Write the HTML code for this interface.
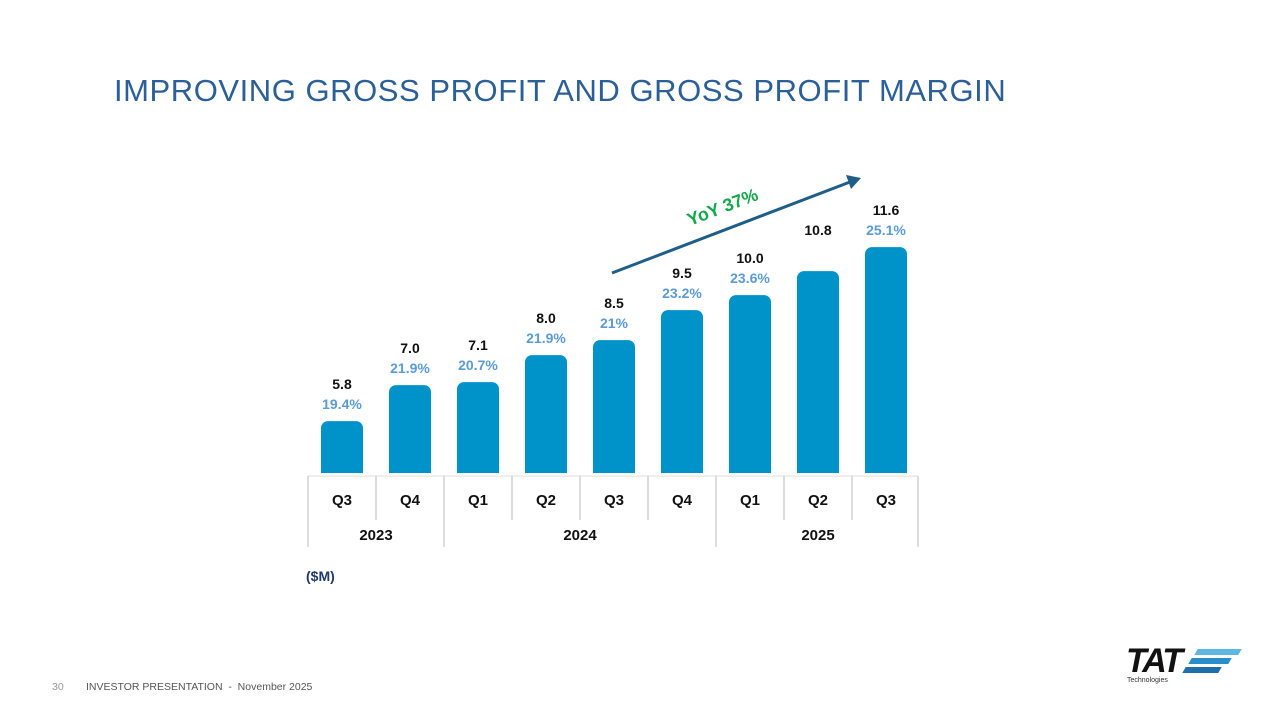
<!DOCTYPE html>
<html><head><meta charset="utf-8"><style>
body{margin:0;width:1280px;height:720px;background:#fff;overflow:hidden;font-family:"Liberation Sans",sans-serif;position:relative}
.t{position:absolute;left:114px;top:73px;font-size:31px;color:#2a5f97;letter-spacing:0.55px}
.f{position:absolute;top:681px;font-size:10.5px;color:#555}
</style></head><body>
<div class="t">IMPROVING GROSS PROFIT AND GROSS PROFIT MARGIN</div>
<svg id="c" width="1280" height="720" style="position:absolute;left:0;top:0"></svg>
<div class="f" style="left:52px;color:#999">30</div>
<div class="f" style="left:86px">INVESTOR PRESENTATION &nbsp;- &nbsp;November 2025</div>
<div style="position:absolute;left:1126px;top:644px;width:120px;height:40px">
<div style="position:absolute;left:0;top:0;font:italic bold 34px 'Liberation Sans',sans-serif;color:#111;letter-spacing:-2px;line-height:34px">TAT</div>
<div style="position:absolute;left:70px;top:5px;width:44px;height:6px;background:#5cb8e0;transform:skewX(-30deg)"></div>
<div style="position:absolute;left:64px;top:14px;width:40px;height:6px;background:#2a8fc8;transform:skewX(-30deg)"></div>
<div style="position:absolute;left:58px;top:23px;width:36px;height:6px;background:#1f6faa;transform:skewX(-30deg)"></div>
<div style="position:absolute;left:1px;top:33px;font-size:7px;color:#333">Technologies</div>
</div>
<script>
const quarters=["Q3","Q4","Q1","Q2","Q3","Q4","Q1","Q2","Q3"];
const years=["2023","2024","2025"];
const yearSpans=[2,4,3];
const values=[5.8,7.0,7.1,8.0,8.5,9.5,10.0,10.8,11.6];
const valueLabels=["5.8","7.0","7.1","8.0","8.5","9.5","10.0","10.8","11.6"];
const margins=["19.4%","21.9%","20.7%","21.9%","21%","23.2%","23.6%","","25.1%"];
const svg=document.getElementById('c');const NS='http://www.w3.org/2000/svg';
function mk(t,a,p){const e=document.createElementNS(NS,t);for(const k in a)e.setAttribute(k,a[k]);(p||svg).appendChild(e);return e;}
const x0=308,slot=68,base=473,bw=42;
const xs=i=>x0+slot*i+slot/2;
const ys=v=>base-(v-4.07)*30;
values.forEach((v,i)=>{
 const y=ys(v);
 const r=mk('rect',{x:xs(i)-bw/2,y:y,width:bw,height:base-y+6,rx:7,fill:'#0093c9'});
 
 const lab=mk('text',{x:xs(i),y:margins[i]?y-32:y-36,'text-anchor':'middle','font-size':'14','font-weight':'bold',fill:'#111'});lab.textContent=valueLabels[i];
 
 if(margins[i]){const m=mk('text',{x:xs(i),y:y-12,'text-anchor':'middle','font-size':'14','font-weight':'bold',fill:'#5b9bd5'});m.textContent=margins[i];
 }
});
mk('rect',{x:300,y:473,width:630,height:10,fill:'#fff'});
mk('line',{x1:308,y1:476,x2:918,y2:476,stroke:'#ddd'});
quarters.forEach((q,i)=>{
 mk('line',{x1:x0+slot*i,y1:476,x2:x0+slot*i,y2:520,stroke:'#ddd','stroke-width':2});
 const t=mk('text',{x:xs(i),y:505,'text-anchor':'middle','font-size':'15','font-weight':'bold',fill:'#111'});t.textContent=q;
 
});
mk('line',{x1:918,y1:476,x2:918,y2:547,stroke:'#ddd','stroke-width':2});
let s=0;years.forEach((yv,i)=>{
 const a=x0+slot*s,b=x0+slot*(s+yearSpans[i]);
 mk('line',{x1:a,y1:520,x2:a,y2:547,stroke:'#ddd','stroke-width':2});
 const t=mk('text',{x:(a+b)/2,y:540,'text-anchor':'middle','font-size':'15','font-weight':'bold',fill:'#111'});t.textContent=yv;
 
 s+=yearSpans[i];
});
const u=mk('text',{x:306,y:581,'font-size':'14','font-weight':'bold',fill:'#1f3a6e'});u.textContent='($M)';

mk('line',{x1:612,y1:273,x2:850,y2:182,stroke:'#1f5f87','stroke-width':3});
mk('polygon',{points:'861,178 846,175 851,189',fill:'#1f5f87'});
const yy=mk('text',{x:0,y:0,'font-size':'18','font-weight':'bold',fill:'#13a84a',transform:'translate(690,226) rotate(-21)'});yy.textContent='YoY 37%';

</script>
</body></html>
